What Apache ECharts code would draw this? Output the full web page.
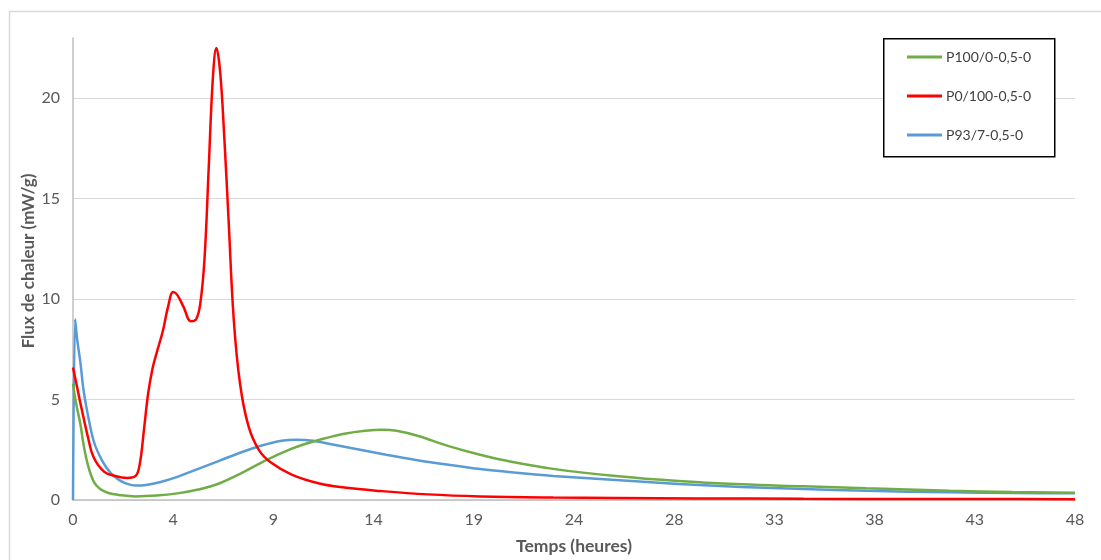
<!DOCTYPE html>
<html>
<head>
<meta charset="utf-8">
<script src="https://cdn.jsdelivr.net/npm/echarts@6/dist/echarts.min.js"></script>
<style>html,body{margin:0;padding:0;background:#fff;}#c{width:1101px;height:560px;}</style>
</head>
<body>
<div id="c"></div>
<script>
var xTickLabels = ['0','4','9','14','19','24','28','33','38','43','48'];
var yTicks = [0, 5, 10, 15, 20];
var seriesNames = ['P100/0-0,5-0', 'P0/100-0,5-0', 'P93/7-0,5-0'];

var tGreen = [0, 0.15, 0.35, 0.5, 0.7, 1.0, 1.3, 1.7, 2.2, 3.0, 4.0, 5.0, 6.0, 7.0, 8.0, 9.0, 10.0, 11.0, 12.0, 13.0, 14.0, 14.8, 15.5, 16.5, 18, 19.5, 21, 23, 26, 29, 32, 35, 38, 42, 45, 48];
var vGreen = [5.8, 4.8, 3.8, 2.8, 1.8, 0.9, 0.55, 0.35, 0.25, 0.18, 0.22, 0.33, 0.52, 0.82, 1.3, 1.85, 2.35, 2.75, 3.05, 3.3, 3.45, 3.5, 3.45, 3.2, 2.68, 2.25, 1.9, 1.55, 1.19, 0.94, 0.78, 0.68, 0.58, 0.46, 0.4, 0.36];

var tRed = [0, 0.2, 0.4, 0.7, 1.0, 1.5, 2.0, 2.6, 3.0, 3.2, 3.4, 3.6, 3.8, 4.0, 4.3, 4.55, 4.8, 5.0, 5.3, 5.65, 5.9, 6.1, 6.3, 6.5, 6.7, 6.87, 7.05, 7.25, 7.45, 7.7, 8.0, 8.4, 8.9, 9.5, 10.5, 11.8, 13, 14.7, 17, 19.5, 23, 26, 30, 35, 40, 44, 48];
var vRed = [6.6, 5.6, 4.6, 3.2, 2.1, 1.4, 1.2, 1.1, 1.2, 1.8, 3.5, 5.3, 6.5, 7.3, 8.4, 9.6, 10.35, 10.2, 9.6, 8.9, 9.0, 9.8, 12, 16.5, 21, 22.5, 21.3, 18, 14, 9, 5.8, 3.7, 2.5, 1.85, 1.25, 0.82, 0.62, 0.45, 0.28, 0.18, 0.12, 0.1, 0.08, 0.06, 0.05, 0.05, 0.04];

var tBlue = [0, 0.1, 0.2, 0.36, 0.5, 0.7, 1.0, 1.4, 1.8, 2.2, 2.6, 3.0, 3.5, 4.2, 5.0, 6.0, 7.0, 8.0, 9.0, 10.0, 10.7, 11.5, 12.5, 13.5, 15, 16.5, 18, 19.5, 21, 23, 26, 29, 32, 35, 38, 42, 45, 48];
var vBlue = [0, 9.0, 8.0, 6.8, 5.5, 4.3, 2.9, 1.95, 1.35, 1.0, 0.8, 0.72, 0.75, 0.9, 1.15, 1.55, 1.95, 2.35, 2.7, 2.95, 3.0, 2.95, 2.75, 2.55, 2.25, 1.98, 1.75, 1.54, 1.38, 1.2, 1.0, 0.8, 0.65, 0.55, 0.46, 0.38, 0.35, 0.33];

function pairs(t, v) { return t.map(function (x, i) { return [x, v[i]]; }); }

var FONT = 'Lato, "Open Sans", sans-serif';
var chart = echarts.init(document.getElementById('c'), null, {renderer: 'canvas'});
chart.setOption({
  animation: false,
  backgroundColor: '#ffffff',
  color: ['#70ad47', '#ff0000', '#5b9bd5'],
  graphic: [
    {type: 'rect', left: 7, top: 9, shape: {width: 1120, height: 580}, style: {fill: 'none', stroke: '#d9d9d9', lineWidth: 1.5}, silent: true, z: -1},
    {type: 'rect', left: 883, top: 38, shape: {width: 171, height: 118}, style: {fill: '#fff', stroke: '#000', lineWidth: 1.5}, z: 5}
  ],
  grid: {left: 73, right: 26, top: 38, bottom: 60, containLabel: false, outerBoundsMode: 'none'},
  legend: {
    left: 907, top: 50, orient: 'vertical', padding: 0, itemGap: 25,
    icon: 'rect', itemWidth: 35, itemHeight: 3, z: 10,
    textStyle: {fontFamily: FONT, fontSize: 14, color: '#404040', padding: [0, 0, 0, -1]},
    data: seriesNames
  },
  xAxis: {
    type: 'value', min: 0, max: 48, interval: 4.8,
    name: 'Temps (heures)', nameLocation: 'middle', nameGap: 37, nameMoveOverlap: false,
    nameTextStyle: {fontFamily: FONT, fontSize: 17.5, fontWeight: 'bold', color: '#595959'},
    axisLine: {show: true, lineStyle: {color: '#bfbfbf', width: 1.5}},
    axisTick: {show: false},
    splitLine: {show: false},
    axisLabel: {
      fontFamily: FONT, fontSize: 16, color: '#595959', margin: 12,
      formatter: function (v) { return xTickLabels[Math.round(v / 4.8)]; }
    }
  },
  yAxis: {
    type: 'value', min: 0, max: 23, interval: 5,
    name: 'Flux de chaleur (mW/g)', nameLocation: 'middle', nameGap: 36, nameRotate: 90, nameMoveOverlap: false,
    nameTextStyle: {fontFamily: FONT, fontSize: 17, fontWeight: 'bold', color: '#595959', padding: [0, 0, 0, 16]},
    axisLine: {show: true, lineStyle: {color: '#bfbfbf', width: 1.5}},
    axisTick: {show: false},
    splitLine: {show: true, showMaxLine: false, lineStyle: {color: '#d9d9d9', width: 1}},
    axisLabel: {
      fontFamily: FONT, fontSize: 16, color: '#595959', margin: 13, showMaxLabel: false,
      formatter: function (v) { return yTicks.indexOf(v) >= 0 ? String(v) : ''; }
    }
  },
  series: [
    {name: seriesNames[0], type: 'line', data: pairs(tGreen, vGreen), smooth: 0.4, showSymbol: false, lineStyle: {width: 2.5, color: '#70ad47'}, z: 3},
    {name: seriesNames[1], type: 'line', data: pairs(tRed, vRed), smooth: 0.4, showSymbol: false, lineStyle: {width: 2.5, color: '#ff0000'}, z: 4},
    {name: seriesNames[2], type: 'line', data: pairs(tBlue, vBlue), smooth: 0.3, showSymbol: false, lineStyle: {width: 2.5, color: '#5b9bd5'}, z: 2}
  ]
});
</script>
</body>
</html>
